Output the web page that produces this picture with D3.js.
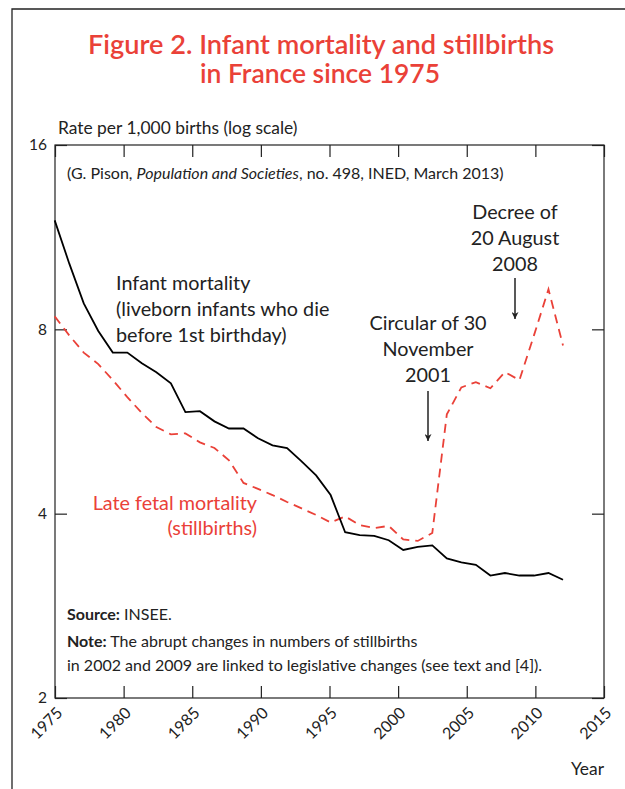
<!DOCTYPE html>
<html>
<head>
    <title>Infant mortality and stillbirths in France since 1975</title>
    <script src="https://d3js.org/d3.v7.min.js"></script>
    <style>
        body { margin: 0; background: #fff; }
        svg { font-family: Lato, "Open Sans", sans-serif; }
        .axis path { display: none; }
        .axis line { stroke: #222; stroke-width: 1.2; }
        .axis text { font-size: 15.5px; fill: #222; font-family: Lato, sans-serif; }
        .label { font-size: 19.8px; fill: #222; }
        .small { font-size: 16px; fill: #222; }
        .axis-title { font-size: 17.4px; fill: #222; }
    </style>
</head>
<body>
    <svg width="625" height="789"></svg>

    <script>
        // data (rate per 1,000 births)
        const years = d3.range(1975, 2011);
        const infantMortality = [
            12.05, 10.25, 8.82, 7.95, 7.33, 7.33, 7.04, 6.81, 6.53, 5.86,
            5.88, 5.66, 5.51, 5.51, 5.31, 5.17, 5.12, 4.87, 4.62, 4.29,
            3.73, 3.69, 3.68, 3.62, 3.49, 3.53, 3.55, 3.38, 3.33, 3.30,
            3.17, 3.20, 3.17, 3.17, 3.20, 3.12
        ];
        const stillbirths = [
            8.40, 7.82, 7.33, 7.02, 6.61, 6.20, 5.84, 5.54, 5.39, 5.41,
            5.23, 5.12, 4.89, 4.49, 4.39, 4.29, 4.18, 4.08, 3.98, 3.87,
            3.96, 3.83, 3.79, 3.82, 3.63, 3.61, 3.72, 5.81, 6.43, 6.56,
            6.41, 6.81, 6.61, 7.82, 9.30, 7.53
        ];
        const yTicks = [2, 4, 8, 16];
        const xTicks = d3.range(1975, 2016, 5);

        const svg = d3.select("svg");
        const plotL = 55, plotR = 604, plotT = 145, plotB = 698;

        // outer frame
        svg.append("path")
            .attr("d", "M12,789 V9 H625")
            .attr("fill", "none")
            .attr("stroke", "#222")
            .attr("stroke-width", 1.3);

        // title
        const title = svg.append("g")
            .attr("fill", "#ea4138")
            .attr("font-size", 26)
            .attr("font-weight", 600)
            .attr("text-anchor", "middle");
        title.append("text").attr("x", 321).attr("y", 54)
            .attr("textLength", 466).attr("lengthAdjust", "spacingAndGlyphs")
            .text("Figure 2. Infant mortality and stillbirths");
        title.append("text").attr("x", 320).attr("y", 83)
            .attr("textLength", 240).attr("lengthAdjust", "spacingAndGlyphs")
            .text("in France since 1975");

        const x = d3.scaleLinear().domain([1975, 2015]).range([plotL, plotR]);
        // data points sit on their own evenly spaced positions, as in the original
        const xData = d3.scalePoint().domain(years).range([54.7, 563]);
        const y = d3.scaleLog().base(2).domain([2, 16]).range([plotB, plotT]);

        svg.append("text").attr("class", "axis-title")
            .attr("x", 58).attr("y", 134)
            .text("Rate per 1,000 births (log scale)");

        // plot box
        svg.append("rect")
            .attr("x", plotL).attr("y", plotT)
            .attr("width", plotR - plotL).attr("height", plotB - plotT)
            .attr("fill", "none").attr("stroke", "#222").attr("stroke-width", 1.2);

        svg.append("g").attr("class", "axis")
            .attr("transform", `translate(${plotL},0)`)
            .call(d3.axisLeft(y).tickValues(yTicks).tickFormat(d3.format("d"))
                .tickSizeInner(-12).tickSizeOuter(0).tickPadding(8));

        svg.append("g").attr("class", "axis")
            .attr("transform", `translate(${plotR},0)`)
            .call(d3.axisRight(y).tickValues(yTicks).tickFormat("")
                .tickSizeInner(-12).tickSizeOuter(0));

        svg.append("g").attr("class", "axis")
            .attr("transform", `translate(0,${plotT})`)
            .call(d3.axisTop(x).tickValues(xTicks).tickFormat("")
                .tickSizeInner(-12).tickSizeOuter(0));

        const xAxis = svg.append("g").attr("class", "axis")
            .attr("transform", `translate(0,${plotB})`)
            .call(d3.axisBottom(x).tickValues(xTicks).tickFormat(d3.format("d"))
                .tickSizeInner(-12).tickSizeOuter(0));
        xAxis.selectAll("text")
            .attr("x", 0).attr("y", 0).attr("dy", "0.35em")
            .attr("transform", "translate(4,12) rotate(-45)")
            .style("text-anchor", "end")
            .style("font-size", "16px");

        svg.append("text").attr("class", "axis-title")
            .attr("x", 604).attr("y", 775).attr("text-anchor", "end")
            .text("Year");

        // series
        const line = d3.line()
            .x((d, i) => xData(years[i]))
            .y(d => y(d));

        svg.append("path")
            .datum(stillbirths)
            .attr("fill", "none")
            .attr("stroke", "#ea4138")
            .attr("stroke-width", 1.8)
            .attr("stroke-dasharray", "9,6")
            .attr("d", line);

        svg.append("path")
            .datum(infantMortality)
            .attr("fill", "none")
            .attr("stroke", "#000")
            .attr("stroke-width", 1.8)
            .attr("d", line);

        // reference note
        const ref = svg.append("text").attr("class", "small").attr("x", 67).attr("y", 179);
        ref.append("tspan").text("(G. Pison, ");
        ref.append("tspan").attr("font-style", "italic").text("Population and Societies");
        ref.append("tspan").text(", no. 498, INED, March 2013)");

        // series labels
        const infLabel = ["Infant mortality", "(liveborn infants who die", "before 1st birthday)"];
        svg.append("g").selectAll("text").data(infLabel).enter().append("text")
            .attr("class", "label")
            .attr("x", 116).attr("y", (d, i) => 290 + i * 26)
            .text(d => d);

        const sbLabel = ["Late fetal mortality", "(stillbirths)"];
        svg.append("g").selectAll("text").data(sbLabel).enter().append("text")
            .attr("class", "label").style("fill", "#ea4138")
            .attr("x", 257).attr("y", (d, i) => 510 + i * 25)
            .attr("text-anchor", "end")
            .text(d => d);

        // annotations with arrows
        svg.append("defs").append("marker")
            .attr("id", "arrowhead")
            .attr("viewBox", "0 -5 10 10")
            .attr("refX", 10).attr("refY", 0)
            .attr("orient", "auto")
            .attr("markerWidth", 7).attr("markerHeight", 7)
            .attr("markerUnits", "userSpaceOnUse")
            .append("path")
            .attr("d", "M0,-5L10,0L0,5L3,0Z")
            .attr("fill", "#222");

        const notes = [
            { lines: ["Circular of 30", "November", "2001"], cx: 428, ty: 330, a1: 391, a2: 441 },
            { lines: ["Decree of", "20 August", "2008"], cx: 515, ty: 219, a1: 278, a2: 319 }
        ];
        notes.forEach(n => {
            svg.append("g").selectAll("text").data(n.lines).enter().append("text")
                .attr("class", "label").attr("text-anchor", "middle")
                .attr("x", n.cx).attr("y", (d, i) => n.ty + i * 26)
                .text(d => d);
            svg.append("line")
                .attr("x1", n.cx).attr("x2", n.cx)
                .attr("y1", n.a1).attr("y2", n.a2)
                .attr("stroke", "#222").attr("stroke-width", 1.5)
                .attr("marker-end", "url(#arrowhead)");
        });

        // source and note
        const src = svg.append("text").attr("class", "small").attr("x", 67).attr("y", 620);
        src.append("tspan").attr("font-weight", 700).text("Source:");
        src.append("tspan").text(" INSEE.");

        const note = svg.append("text").attr("class", "small").attr("x", 67).attr("y", 647);
        note.append("tspan").attr("font-weight", 700).text("Note:");
        note.append("tspan").text(" The abrupt changes in numbers of stillbirths");
        svg.append("text").attr("class", "small").attr("x", 67).attr("y", 671)
            .text("in 2002 and 2009 are linked to legislative changes (see text and [4]).");
    </script>
</body>
</html>
